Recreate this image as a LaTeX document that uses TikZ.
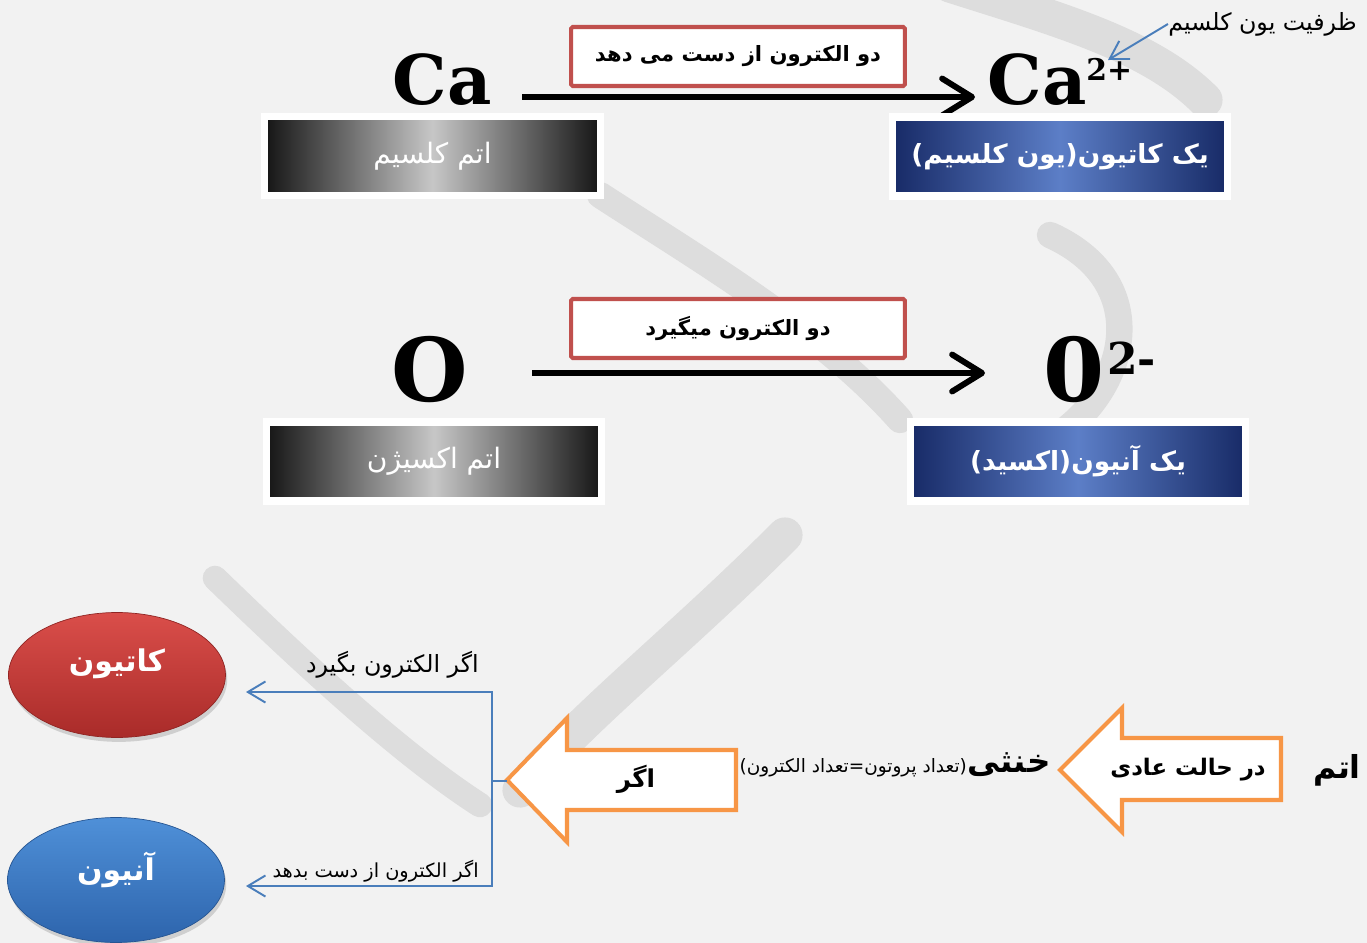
\documentclass[tikz,border=0pt]{standalone}
\usepackage{fontspec}
\usepackage{tikz}
\usetikzlibrary{calc,positioning,shapes,shapes.geometric,arrows.meta,shadows}
\TeXXeTstate=1
\newfontfamily\arabicfont[Script=Arabic]{DejaVu Sans}
\newfontfamily\elemfont{DejaVu Serif}
\newcommand{\Fa}[1]{{\arabicfont\beginR #1\endR}}
\definecolor{bgGray}{HTML}{F2F2F2}
\definecolor{wmGray}{HTML}{DDDDDD}
\definecolor{boxRed}{HTML}{C0504D}
\definecolor{lineBlue}{HTML}{4A7EBB}
\definecolor{arrOrange}{HTML}{F79646}
\definecolor{navyDark}{HTML}{172A66}
\definecolor{navyLight}{HTML}{5C7EC7}
\definecolor{ballRedTop}{HTML}{DA4E4A}
\definecolor{ballRedBot}{HTML}{A92B29}
\definecolor{ballBlueTop}{HTML}{4F90D8}
\definecolor{ballBlueBot}{HTML}{2D64AC}

\begin{document}
\begin{tikzpicture}[x=0.02cm, y=-0.02cm,
    wm/.style={draw=wmGray, line cap=round},
    elem/.style={font=\elemfont\bfseries\fontsize{39}{39}\selectfont, inner sep=0pt},
    chg/.style={font=\elemfont\bfseries\fontsize{17}{17}\selectfont, inner sep=0pt},
    redbox/.style={draw=boxRed, line width=2.3pt, fill=white, rounded corners=1pt, minimum width=6.68cm, minimum height=1.18cm, font=\bfseries\fontsize{12}{12}\selectfont},
    graybox/.style={draw=white, line width=4pt, left color=black!92, right color=black!92, middle color=black!22, minimum width=6.72cm, minimum height=1.58cm, text=white, font=\fontsize{16}{16}\selectfont, drop shadow={shadow xshift=1.5pt, shadow yshift=-2pt, opacity=.3}},
    bluebox/.style={graybox, left color=navyDark, right color=navyDark, middle color=navyLight, font=\bfseries\fontsize{15}{15}\selectfont},
    ball/.style={ellipse, minimum width=4.34cm, minimum height=2.5cm, inner sep=0pt, drop shadow={shadow xshift=1pt, shadow yshift=-2.5pt, opacity=.3}},
    balltext/.style={inner sep=0pt, text=white, font=\bfseries\fontsize{17}{17}\selectfont},
    bigarr/.style={line width=3.4pt, -{Straight Barb[length=17pt, width=21pt, round]}},
    conn/.style={draw=lineBlue, line width=1.1pt},
    connarr/.style={conn, -{Straight Barb[length=10pt, width=12pt]}},
    oarrow/.style={draw=arrOrange, line width=2.3pt, fill=white, line join=miter},
    lbl/.style={inner sep=0pt, font=\fontsize{13.5}{13.5}\selectfont}
]
    \useasboundingbox (0,0) rectangle (1367,943);
    \fill[bgGray] (0,0) rectangle (1367,943);

    \draw[wm, line width=20pt] (950,-15) .. controls (1060,20) and (1150,45) .. (1205,100);
    \draw[wm, line width=15pt] (600,195) .. controls (700,260) and (820,330) .. (900,420);
    \draw[wm, line width=15pt] (1050,235) .. controls (1150,280) and (1130,380) .. (1065,430);
    \draw[wm, line width=20pt] (785,535) .. controls (680,640) and (590,710) .. (520,790);
    \draw[wm, line width=14pt] (215,578) .. controls (320,680) and (410,760) .. (480,805);

    \node[elem] (ca) at (442,80) {Ca};
    \node[elem] (ca2) at (1037,80) {Ca};
    \node[chg, anchor=north west] (chg1) at (1086,58) {2+};
    \node[elem, font=\elemfont\bfseries\fontsize{50}{50}\selectfont] (ox) at (430,370) {O};
    \node[elem, font=\elemfont\bfseries\fontsize{50}{50}\selectfont] (ox2) at (1074,370) {0};
    \node[chg, font=\elemfont\bfseries\fontsize{25}{25}\selectfont, anchor=north west] (chg2) at (1107,342) {2-};

    \node[redbox] (lose) at (738,56.5) {\Fa{دو الکترون از دست می دهد}};
    \node[redbox] (gain) at (738,328.5) {\Fa{دو الکترون میگیرد}};

    \coordinate (s1) at (522,97);
    \coordinate (e1) at (975,97);
    \coordinate (s2) at (532,373);
    \coordinate (e2) at (985,373);
    \draw[bigarr] (s1) -- (e1);
    \draw[bigarr] (s2) -- (e2);

    \node[graybox] (caatom) at (432.5,156) {\Fa{اتم کلسیم}};
    \node[bluebox] (caion) at (1060,156.5) {\Fa{یک کاتیون(یون کلسیم)}};
    \node[graybox] (oatom) at (434,461.5) {\Fa{اتم اکسیژن}};
    \node[bluebox] (oion) at (1078,461.5) {\Fa{یک آنیون(اکسید)}};

    \node[lbl, anchor=east] (val) at (1357,24) {\Fa{ظرفیت یون کلسیم}};
    \coordinate (valto) at (1108,60);
    \draw[connarr] (val.west) -- (valto);

    \node[ball, top color=ballRedTop, bottom color=ballRedBot, draw=ballRedBot!85!black] (kat) at (117,675) {};
    \node[balltext] (kattext) at (117,664) {\Fa{کاتیون}};
    \node[ball, top color=ballBlueTop, bottom color=ballBlueBot, draw=ballBlueBot!85!black] (an) at (116,880) {};
    \node[balltext] (antext) at (116,870) {\Fa{آنیون}};

    \draw[oarrow] (507,780) -- (567,718) -- (567,750) -- (736,750) -- (736,810) -- (567,810) -- (567,842) -- cycle;
    \node[inner sep=0pt, font=\bfseries\fontsize{14}{14}\selectfont] (agar) at (636,779) {\Fa{اگر}};
    \draw[oarrow] (1060,770) -- (1122,708) -- (1122,738) -- (1281,738) -- (1281,800) -- (1122,800) -- (1122,832) -- cycle;
    \node[inner sep=0pt, font=\bfseries\fontsize{13}{13}\selectfont] (adi) at (1188,770) {\Fa{در حالت عادی}};
    \node[inner sep=0pt, font=\bfseries\fontsize{18}{18}\selectfont] (atom) at (1337,770) {\Fa{اتم}};

    \node[inner sep=0pt, font=\bfseries\fontsize{18.5}{18.5}\selectfont] (khonsa) at (1009,765) {\Fa{خنثی}};
    \node[inner sep=0pt, font=\fontsize{10.5}{10.5}\selectfont, anchor=base east] (eqn) at (khonsa.base west) {\Fa{(تعداد پروتون=تعداد الکترون)}};

    \coordinate (agartip) at (507,781);
    \coordinate (fork) at (492,781);
    \coordinate (katin) at (246,692);
    \coordinate (anin) at (246,886);
    \draw[connarr] (agartip) -- (fork) |- (katin);
    \draw[connarr] (fork) |- (anin);
    \node[lbl, anchor=east] (ifgain) at (479,665) {\Fa{اگر الکترون بگیرد}};
    \node[lbl, font=\fontsize{11}{11}\selectfont, anchor=east] (iflose) at (479,871) {\Fa{اگر الکترون از دست بدهد}};
\end{tikzpicture}
\end{document}
